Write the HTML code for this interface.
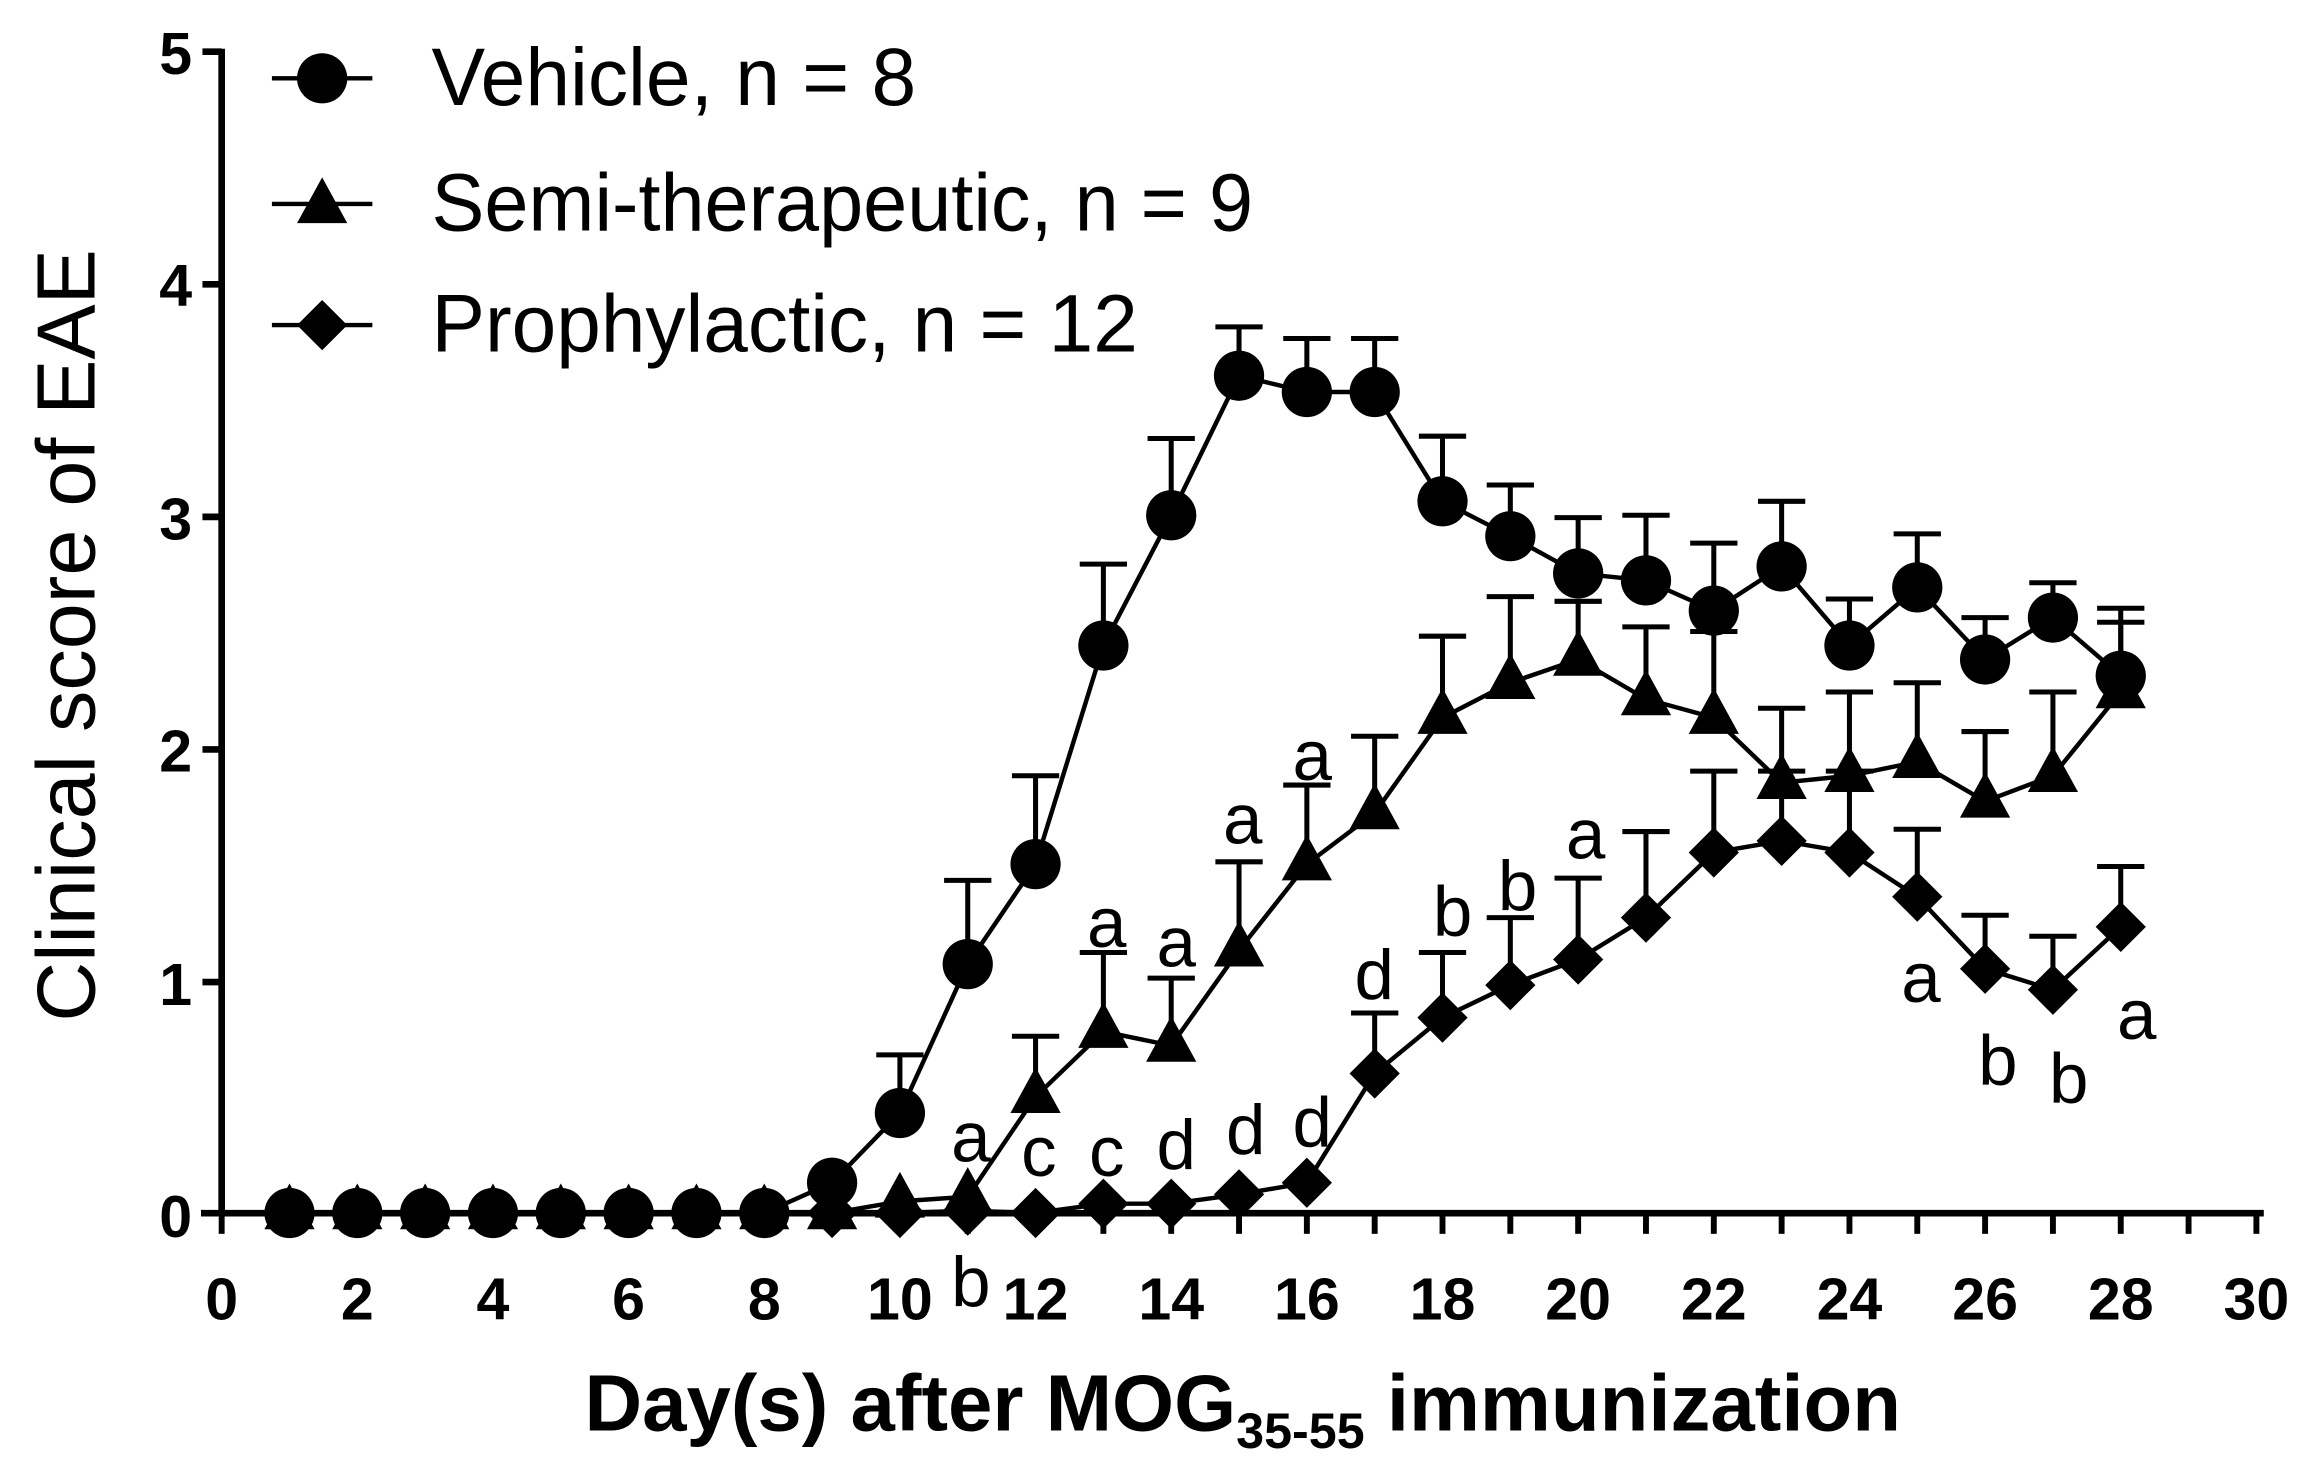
<!DOCTYPE html>
<html><head><style>
html,body{margin:0;padding:0;background:#fff;}
svg{display:block;}
text{font-family:"Liberation Sans",Arial,sans-serif;}
</style></head><body>
<svg width="2317" height="1471" viewBox="0 0 1568 995.5" xmlns="http://www.w3.org/2000/svg">
<defs>
<circle id="c" r="17" fill="#000"/>
<polygon id="t" points="0,-20 17,11 -17,11" fill="#000"/>
<polygon id="d" points="0,-17 17,0 0,17 -17,0" fill="#000"/>
</defs>
<g id="plot"></g>
<g stroke="#000" stroke-width="4.5" fill="none">
<line x1="150" y1="33" x2="150" y2="823"/>
<line x1="136" y1="821" x2="1532" y2="821"/>
<line x1="137" y1="35" x2="150" y2="35"/>
<line x1="137" y1="192.4" x2="150" y2="192.4"/>
<line x1="137" y1="349.8" x2="150" y2="349.8"/>
<line x1="137" y1="507.2" x2="150" y2="507.2"/>
<line x1="137" y1="664.6" x2="150" y2="664.6"/>
</g>
<g font-weight="bold" font-size="40" text-anchor="end">
<text x="130" y="50">5</text><text x="130" y="207">4</text><text x="130" y="365">3</text>
<text x="130" y="522">2</text><text x="130" y="680">1</text><text x="130" y="837">0</text>
</g>
<g font-weight="bold" font-size="40" text-anchor="middle" id="xl"></g>
<text transform="translate(64,430) rotate(-90)" font-size="56" text-anchor="middle">Clinical score of EAE</text>
<text x="841" y="968" font-size="54" font-weight="bold" text-anchor="middle">Day(s) after MOG<tspan font-size="34" dy="12">35-55</tspan><tspan dy="-12"> immunization</tspan></text>
<g stroke="#000" stroke-width="3">
<line x1="184" y1="53" x2="252" y2="53"/><line x1="184" y1="138" x2="252" y2="138"/><line x1="184" y1="220" x2="252" y2="220"/>
</g>
<use href="#c" x="218" y="53"/><use href="#t" x="218" y="140"/><use href="#d" x="218" y="220"/>
<g font-size="55">
<text x="292" y="71" textLength="328" lengthAdjust="spacingAndGlyphs">Vehicle, n = 8</text>
<text x="292" y="156" textLength="556" lengthAdjust="spacingAndGlyphs">Semi-therapeutic, n = 9</text>
<text x="292" y="238" textLength="478" lengthAdjust="spacingAndGlyphs">Prophylactic, n = 12</text>
</g>
<g font-size="48" text-anchor="middle" id="lt"></g>
<script>
var X=d=>150+45.9*d, Y=v=>820.9-157.4*v;
var veh=[[0,0],[0,0],[0,0],[0,0],[0,0],[0,0],[0,0],[0,0],[0.13,0.13],[0.43,0.68],[1.07,1.43],[1.5,1.88],[2.44,2.79],[3.0,3.33],[3.6,3.81],[3.53,3.76],[3.53,3.76],[3.06,3.34],[2.91,3.13],[2.75,2.99],[2.72,3.0],[2.59,2.88],[2.78,3.06],[2.44,2.64],[2.69,2.92],[2.38,2.56],[2.56,2.71],[2.31,2.6]];
var semi=[[0,0],[0,0],[0,0],[0,0],[0,0],[0,0],[0,0],[0,0],[0,0],[0.05,0.05],[0.07,0.07],[0.5,0.76],[0.78,1.12],[0.72,1.01],[1.13,1.51],[1.5,1.84],[1.72,2.05],[2.13,2.48],[2.28,2.65],[2.38,2.63],[2.21,2.52],[2.13,2.5],[1.85,2.17],[1.88,2.24],[1.94,2.28],[1.77,2.07],[1.88,2.24],[2.24,2.54]];
var pro=[[0,0],[0,0],[0,0],[0,0],[0,0],[0,0],[0,0],[0,0],[0,0],[0,0],[0.01,0.01],[0,0],[0.04,0.04],[0.04,0.04],[0.08,0.08],[0.13,0.13],[0.6,0.86],[0.84,1.12],[0.98,1.27],[1.09,1.44],[1.27,1.64],[1.55,1.9],[1.6,1.9],[1.55,1.9],[1.36,1.65],[1.05,1.28],[0.96,1.19],[1.23,1.49]];
var ns="http://www.w3.org/2000/svg",P=document.getElementById("plot");
function el(n,a,p){var e=document.createElementNS(ns,n);for(var k in a)e.setAttribute(k,a[k]);(p||P).appendChild(e);return e;}
function series(data,m){
  var pts=data.map((v,i)=>X(i+1)+","+Y(v[0])).join(" ");
  el("polyline",{points:pts,fill:"none",stroke:"#000","stroke-width":3});
  data.forEach((v,i)=>{if(v[1]>v[0]+0.01){var x=X(i+1);
    el("line",{x1:x,y1:Y(v[0]),x2:x,y2:Y(v[1]),stroke:"#000","stroke-width":3.4});
    el("line",{x1:x-16,y1:Y(v[1]),x2:x+16,y2:Y(v[1]),stroke:"#000","stroke-width":3.4});}});
  data.forEach((v,i)=>{el("use",{href:"#"+m,x:X(i+1),y:Y(v[0])});});
}
series(pro,"d");series(semi,"t");series(veh,"c");
var xl=document.getElementById("xl");
for(var d=0;d<=30;d++){el("line",{x1:X(d),y1:821,x2:X(d),y2:835,stroke:"#000","stroke-width":4},P);
 if(d%2==0){var t=el("text",{x:X(d),y:893},xl);t.textContent=d;}}
var L=[[749,641,"a"],[796,654,"a"],[841,571,"a"],[888,528,"a"],[657,786,"a"],[657,884,"b"],[703,796,"c"],[749,796,"c"],[796,791,"d"],[843,781,"d"],[888,776,"d"],[930,676,"d"],[983,633,"b"],[1027,616,"b"],[1073,581,"a"],[1300,678,"a"],[1352,734,"b"],[1400,746,"b"],[1446,703,"a"]];
var lt=document.getElementById("lt");
L.forEach(a=>{var t=el("text",{x:a[0],y:a[1]},lt);t.textContent=a[2];});
</script>
</svg>
</body></html>
